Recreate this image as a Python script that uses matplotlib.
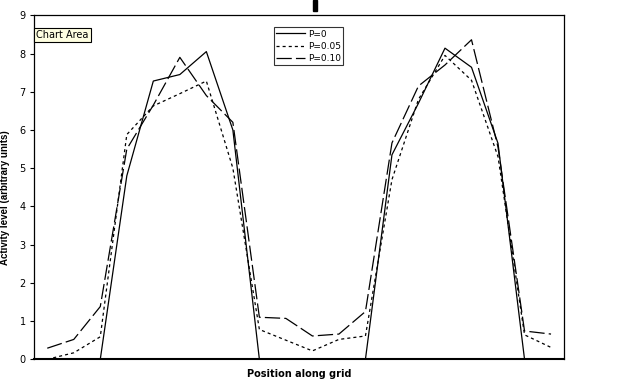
import numpy as np
import matplotlib
matplotlib.use('Agg')
import matplotlib.pyplot as plt
from matplotlib.patches import Rectangle

plt.rcParams['lines.scale_dashes'] = False
plt.rcParams['font.family'] = ['DejaVu Sans']

# values, one per grid position
positions = np.arange(20)
p0 = [0, 0, 0, 4.8, 7.28, 7.45, 8.05, 6.0, 0, 0,
      0, 0, 0, 5.35, 6.7, 8.14, 7.64, 5.65, 0, 0]
p005 = [0.0, 0.17, 0.59, 5.88, 6.63, 6.95, 7.28, 5.0, 0.78, 0.5,
        0.22, 0.52, 0.61, 4.7, 6.8, 7.95, 7.3, 5.3, 0.64, 0.31]
p010 = [0.29, 0.52, 1.38, 5.5, 6.65, 7.9, 6.9, 6.2, 1.10, 1.07,
        0.61, 0.66, 1.25, 5.66, 7.15, 7.7, 8.36, 5.55, 0.74, 0.66]
labels = ['P=0', 'P=0.05', 'P=0.10']
yticks = list(range(10))

W, H = 631, 387
fig = plt.figure(figsize=(W / 100, H / 100), dpi=100, facecolor='white')
ax = fig.add_axes([34 / W, (H - 359.3) / H, (564.3 - 34) / W, (359.3 - 15.3) / H])

ax.plot(positions, p0, color='black', lw=0.9, ls='-', label=labels[0])
ax.plot(positions, p005, color='black', lw=0.9, ls=(0, (2.2, 2.2)), label=labels[1])
ax.plot(positions, p010, color='black', lw=0.9, ls=(0, (11, 3)), label=labels[2])

ax.set_xlim(-0.5, 19.5)
ax.set_ylim(0, 9)
ax.set_yticks(yticks)
ax.set_xticks([])
ax.tick_params(axis='y', direction='out', length=3, width=0.8, labelsize=7, pad=3)
for s in ax.spines.values():
    s.set_linewidth(0.9)
    s.set_color('black')
ax.spines['bottom'].set_linewidth(1.5)

ax.set_ylabel('Activity level (arbitrary units)', fontsize=7, fontweight='bold',
              family='Liberation Sans', labelpad=4)
ax.yaxis.set_label_coords(-0.045, 0.47)
ax.set_xlabel('Position along grid', fontsize=7, fontweight='bold', labelpad=7)

leg = ax.legend(loc='upper left', bbox_to_anchor=((274 - 34) / (564.3 - 34), 1 - (27.3 - 15.3) / 344),
                fontsize=6.5, frameon=True, fancybox=False, handlelength=3.2,
                handletextpad=0.3, borderpad=0.25, labelspacing=0.35, borderaxespad=0)
leg.get_frame().set_edgecolor('black')
leg.get_frame().set_linewidth(0.8)

# tooltip box and the clipped title fragment
fig.text(36 / W, 1 - 35 / H, 'Chart Area', fontsize=7, va='center', ha='left',
         bbox=dict(boxstyle='square,pad=0.25', fc='#FFFFE1', ec='black', lw=0.8))
fig.patches.append(Rectangle((313 / W, 1 - 11 / H), 4 / W, 11 / H,
                             transform=fig.transFigure, color='black'))

fig.savefig('out.png', dpi=100, facecolor='white')
